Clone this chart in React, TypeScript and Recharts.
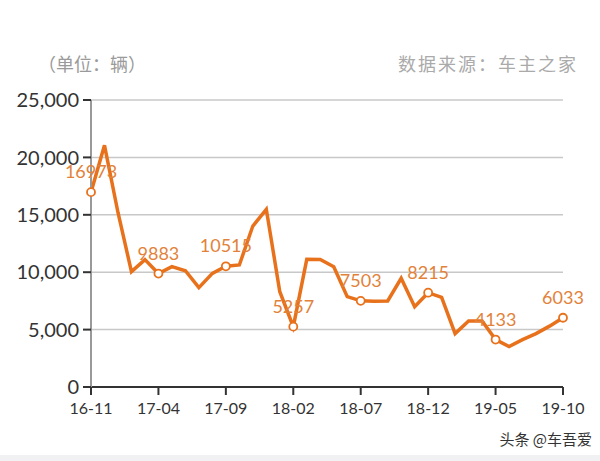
import React from 'react';
import { LineChart, Line, XAxis, YAxis, CartesianGrid, LabelList } from 'recharts';

// months 16-11 .. 19-10
const months = [
  '16-11', '16-12', '17-01', '17-02', '17-03', '17-04', '17-05', '17-06', '17-07', '17-08', '17-09', '17-10',
  '17-11', '17-12', '18-01', '18-02', '18-03', '18-04', '18-05', '18-06', '18-07', '18-08', '18-09', '18-10',
  '18-11', '18-12', '19-01', '19-02', '19-03', '19-04', '19-05', '19-06', '19-07', '19-08', '19-09', '19-10',
];
const sales = [
  16973, 21050, 15200, 10050, 11100, 9883, 10480, 10130, 8650, 9900, 10515, 10630,
  14020, 15480, 8300, 5257, 11120, 11100, 10480, 7870, 7503, 7480, 7500, 9470,
  6990, 8215, 7810, 4650, 5750, 5750, 4133, 3520, 4120, 4650, 5300, 6033,
];
const labeled = ['16-11', '17-04', '17-09', '18-02', '18-07', '18-12', '19-05', '19-10'];
const yTicks = [0, 5000, 10000, 15000, 20000, 25000];

const data = months.map((m, i) => ({ m, v: sales[i] }));

const ORANGE = '#e8711c';
const LABEL = '#e2823a';

const fmt = (v: number) => v.toLocaleString('en-US');

function Dot(props: any) {
  const { cx, cy, payload } = props;
  if (!labeled.includes(payload.m)) return <g />;
  return <circle cx={cx} cy={cy} r={4} fill="#fff" stroke={ORANGE} strokeWidth={1.8} />;
}

function PointLabel(props: any) {
  const { x, y, value, index } = props;
  if (!labeled.includes(months[index])) return null;
  return (
    <text x={x} y={y - 14} textAnchor="middle" fill={LABEL} fontSize={18} fontFamily="Lato, sans-serif">
      {value}
    </text>
  );
}

export default function App() {
  const cjk = '"Noto Sans CJK SC", sans-serif';
  return (
    <div style={{ position: 'fixed', left: 0, top: 0, width: 600, height: 461, background: '#fff' }}>
      <div style={{ position: 'absolute', left: 38, top: 50, fontSize: 18, color: '#9a9a9a', fontFamily: cjk }}>
        （单位：辆）
      </div>
      <div style={{ position: 'absolute', right: 22, top: 50, fontSize: 18, color: '#aaa', fontFamily: cjk, letterSpacing: 2 }}>
        数据来源：车主之家
      </div>
      <LineChart width={600} height={461} data={data} margin={{ top: 100, right: 37, bottom: 44, left: 11 }}>
        <CartesianGrid vertical={false} stroke="#c8c8c8" strokeWidth={1.5} />
        <XAxis
          dataKey="m"
          interval={4}
          axisLine={{ stroke: '#333', strokeWidth: 2 }}
          tickLine={{ stroke: '#333', strokeWidth: 2 }}
          tickSize={8}
          tickMargin={8}
          tick={{ fill: '#333', fontSize: 16, fontFamily: 'Lato, sans-serif' }}
          height={30}
        />
        <YAxis
          domain={[0, 25000]}
          ticks={yTicks}
          tickFormatter={fmt}
          axisLine={{ stroke: '#999', strokeWidth: 2 }}
          tickLine={{ stroke: '#333', strokeWidth: 2 }}
          tickSize={8}
          tickMargin={4}
          tick={{ fill: '#333', fontSize: 20, fontFamily: 'Lato, sans-serif' }}
          width={80}
        />
        <Line
          dataKey="v"
          type="linear"
          stroke={ORANGE}
          strokeWidth={3.5}
          dot={<Dot />}
          activeDot={false}
          isAnimationActive={false}
        >
          <LabelList dataKey="v" content={<PointLabel />} />
        </Line>
      </LineChart>
      <div style={{ position: 'absolute', right: 8, top: 428, fontSize: 15, color: '#333', fontFamily: cjk }}>
        头条 @车吾爱
      </div>
      <div style={{ position: 'absolute', left: 0, top: 455, width: 600, height: 6, background: '#f1f1f3' }} />
    </div>
  );
}
